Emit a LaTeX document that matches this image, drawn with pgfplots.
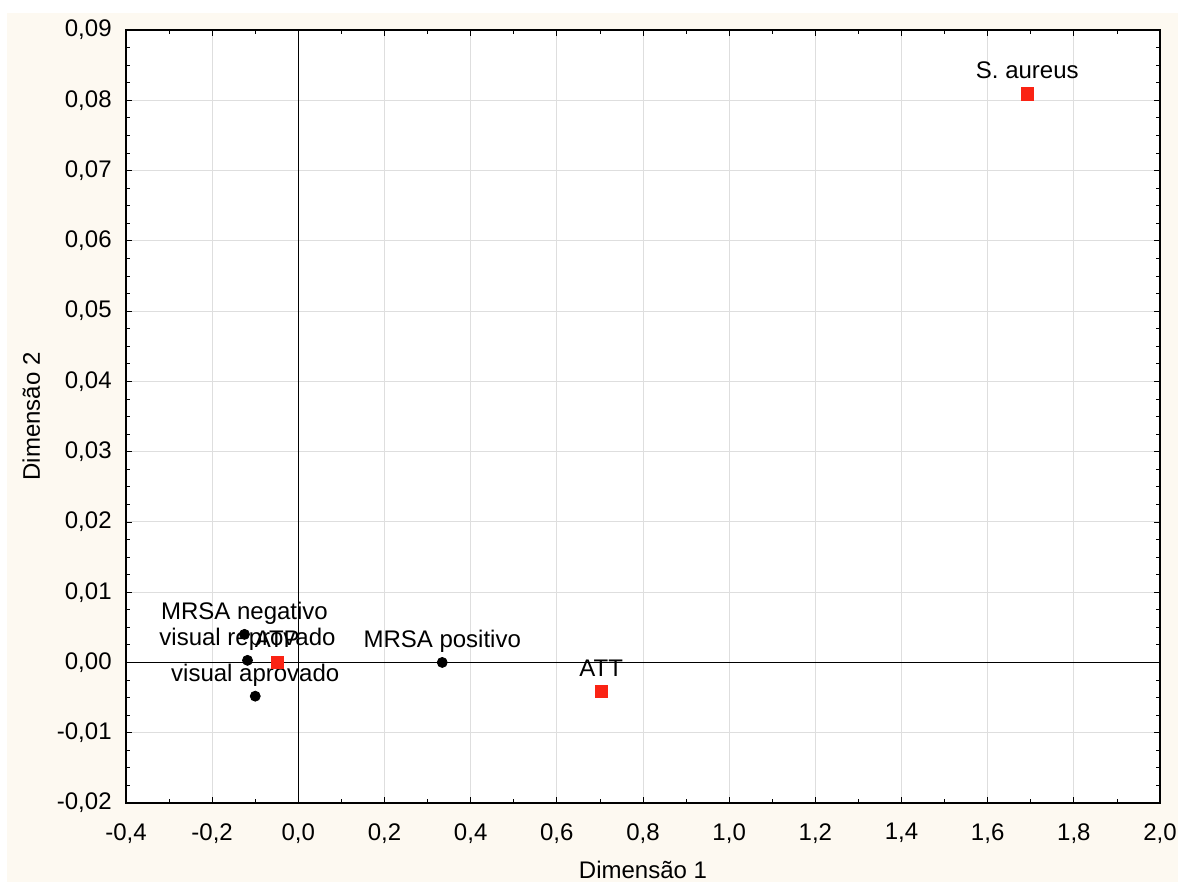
\documentclass[border=0pt]{standalone}
\usepackage{fontspec}
\setmainfont{Liberation Sans}
\usepackage{pgfplots}
\pgfplotsset{compat=1.18}
\definecolor{bgc}{RGB}{253,249,241}
\definecolor{redm}{RGB}{250,35,20}
\definecolor{gridc}{RGB}{222,222,222}
\newcommand{\chartfont}{\fontsize{12}{14}\selectfont}
\begin{document}
\chartfont
\begin{tikzpicture}
\fill[white] (0,0) rectangle (589pt,441pt);
\fill[bgc] (3.5pt,0) rectangle (589pt,434.5pt);
\begin{axis}[
  at={(63pt,39.5pt)}, anchor=south west,
  scale only axis, width=517pt, height=386.5pt,
  xmin=-0.4, xmax=2.0, ymin=-0.02, ymax=0.09,
  xtick={-0.4,-0.2,0,0.2,0.4,0.6,0.8,1.0,1.2,1.4,1.6,1.8,2.0},
  ytick={-0.02,-0.01,0,0.01,0.02,0.03,0.04,0.05,0.06,0.07,0.08,0.09},
  minor x tick num=1, minor y tick num=3,
  tick align=inside, major tick length=3pt, minor tick length=2pt,
  tick style={black, line width=0.4pt},
  grid=major, major grid style={gridc, line width=0.5pt},
  axis background/.style={fill=white},
  axis line style={black, line width=0.6pt},
  /pgf/number format/assume math mode=true,
  /pgf/number format/use comma,
  xticklabel style={/pgf/number format/fixed, /pgf/number format/fixed zerofill, /pgf/number format/precision=1, yshift=-6pt},
  yticklabel style={/pgf/number format/fixed, /pgf/number format/fixed zerofill, /pgf/number format/precision=2, xshift=-3pt},
  scaled ticks=false,
  tick label style={font=\chartfont},
  xlabel={Dimensão 1}, ylabel={Dimensão 2},
  every axis x label/.style={at={(axis description cs:0.5,-0.0983)}, anchor=base, font=\chartfont},
  every axis y label/.style={at={(axis description cs:-0.0832,0.5)}, rotate=90, anchor=base, font=\chartfont},
  clip=false,
]
\draw[black, line width=0.5pt] (axis cs:0,-0.02) -- (axis cs:0,0.09);
\draw[black, line width=0.5pt] (axis cs:-0.4,0) -- (axis cs:2.0,0);
\addplot[only marks, mark=*, mark size=2.5pt, black,
  nodes near coords, point meta=explicit symbolic,
  every node near coord/.append style={anchor=base, yshift=7.5pt, black, font=\chartfont, inner sep=0pt}]
  table[col sep=comma, x=x, y=y, meta=label] {
x,y,label
-0.125,0.0040,MRSA negativo
-0.118,0.0003,visual reprovado
-0.100,-0.0048,visual aprovado
0.334,0.0000,MRSA positivo
};
\addplot[only marks, mark=square*, mark size=3.1pt, redm,
  nodes near coords, point meta=explicit symbolic,
  every node near coord/.append style={anchor=base, yshift=7.5pt, black, font=\chartfont, inner sep=0pt}]
  table[col sep=comma, x=x, y=y, meta=label] {
x,y,label
0.703,-0.0041,ATT
-0.049,0.0000,ATP
1.692,0.0809,S. aureus
};
\end{axis}
\pgfresetboundingbox
\useasboundingbox (0,0) rectangle (589pt,441pt);
\end{tikzpicture}
\end{document}
